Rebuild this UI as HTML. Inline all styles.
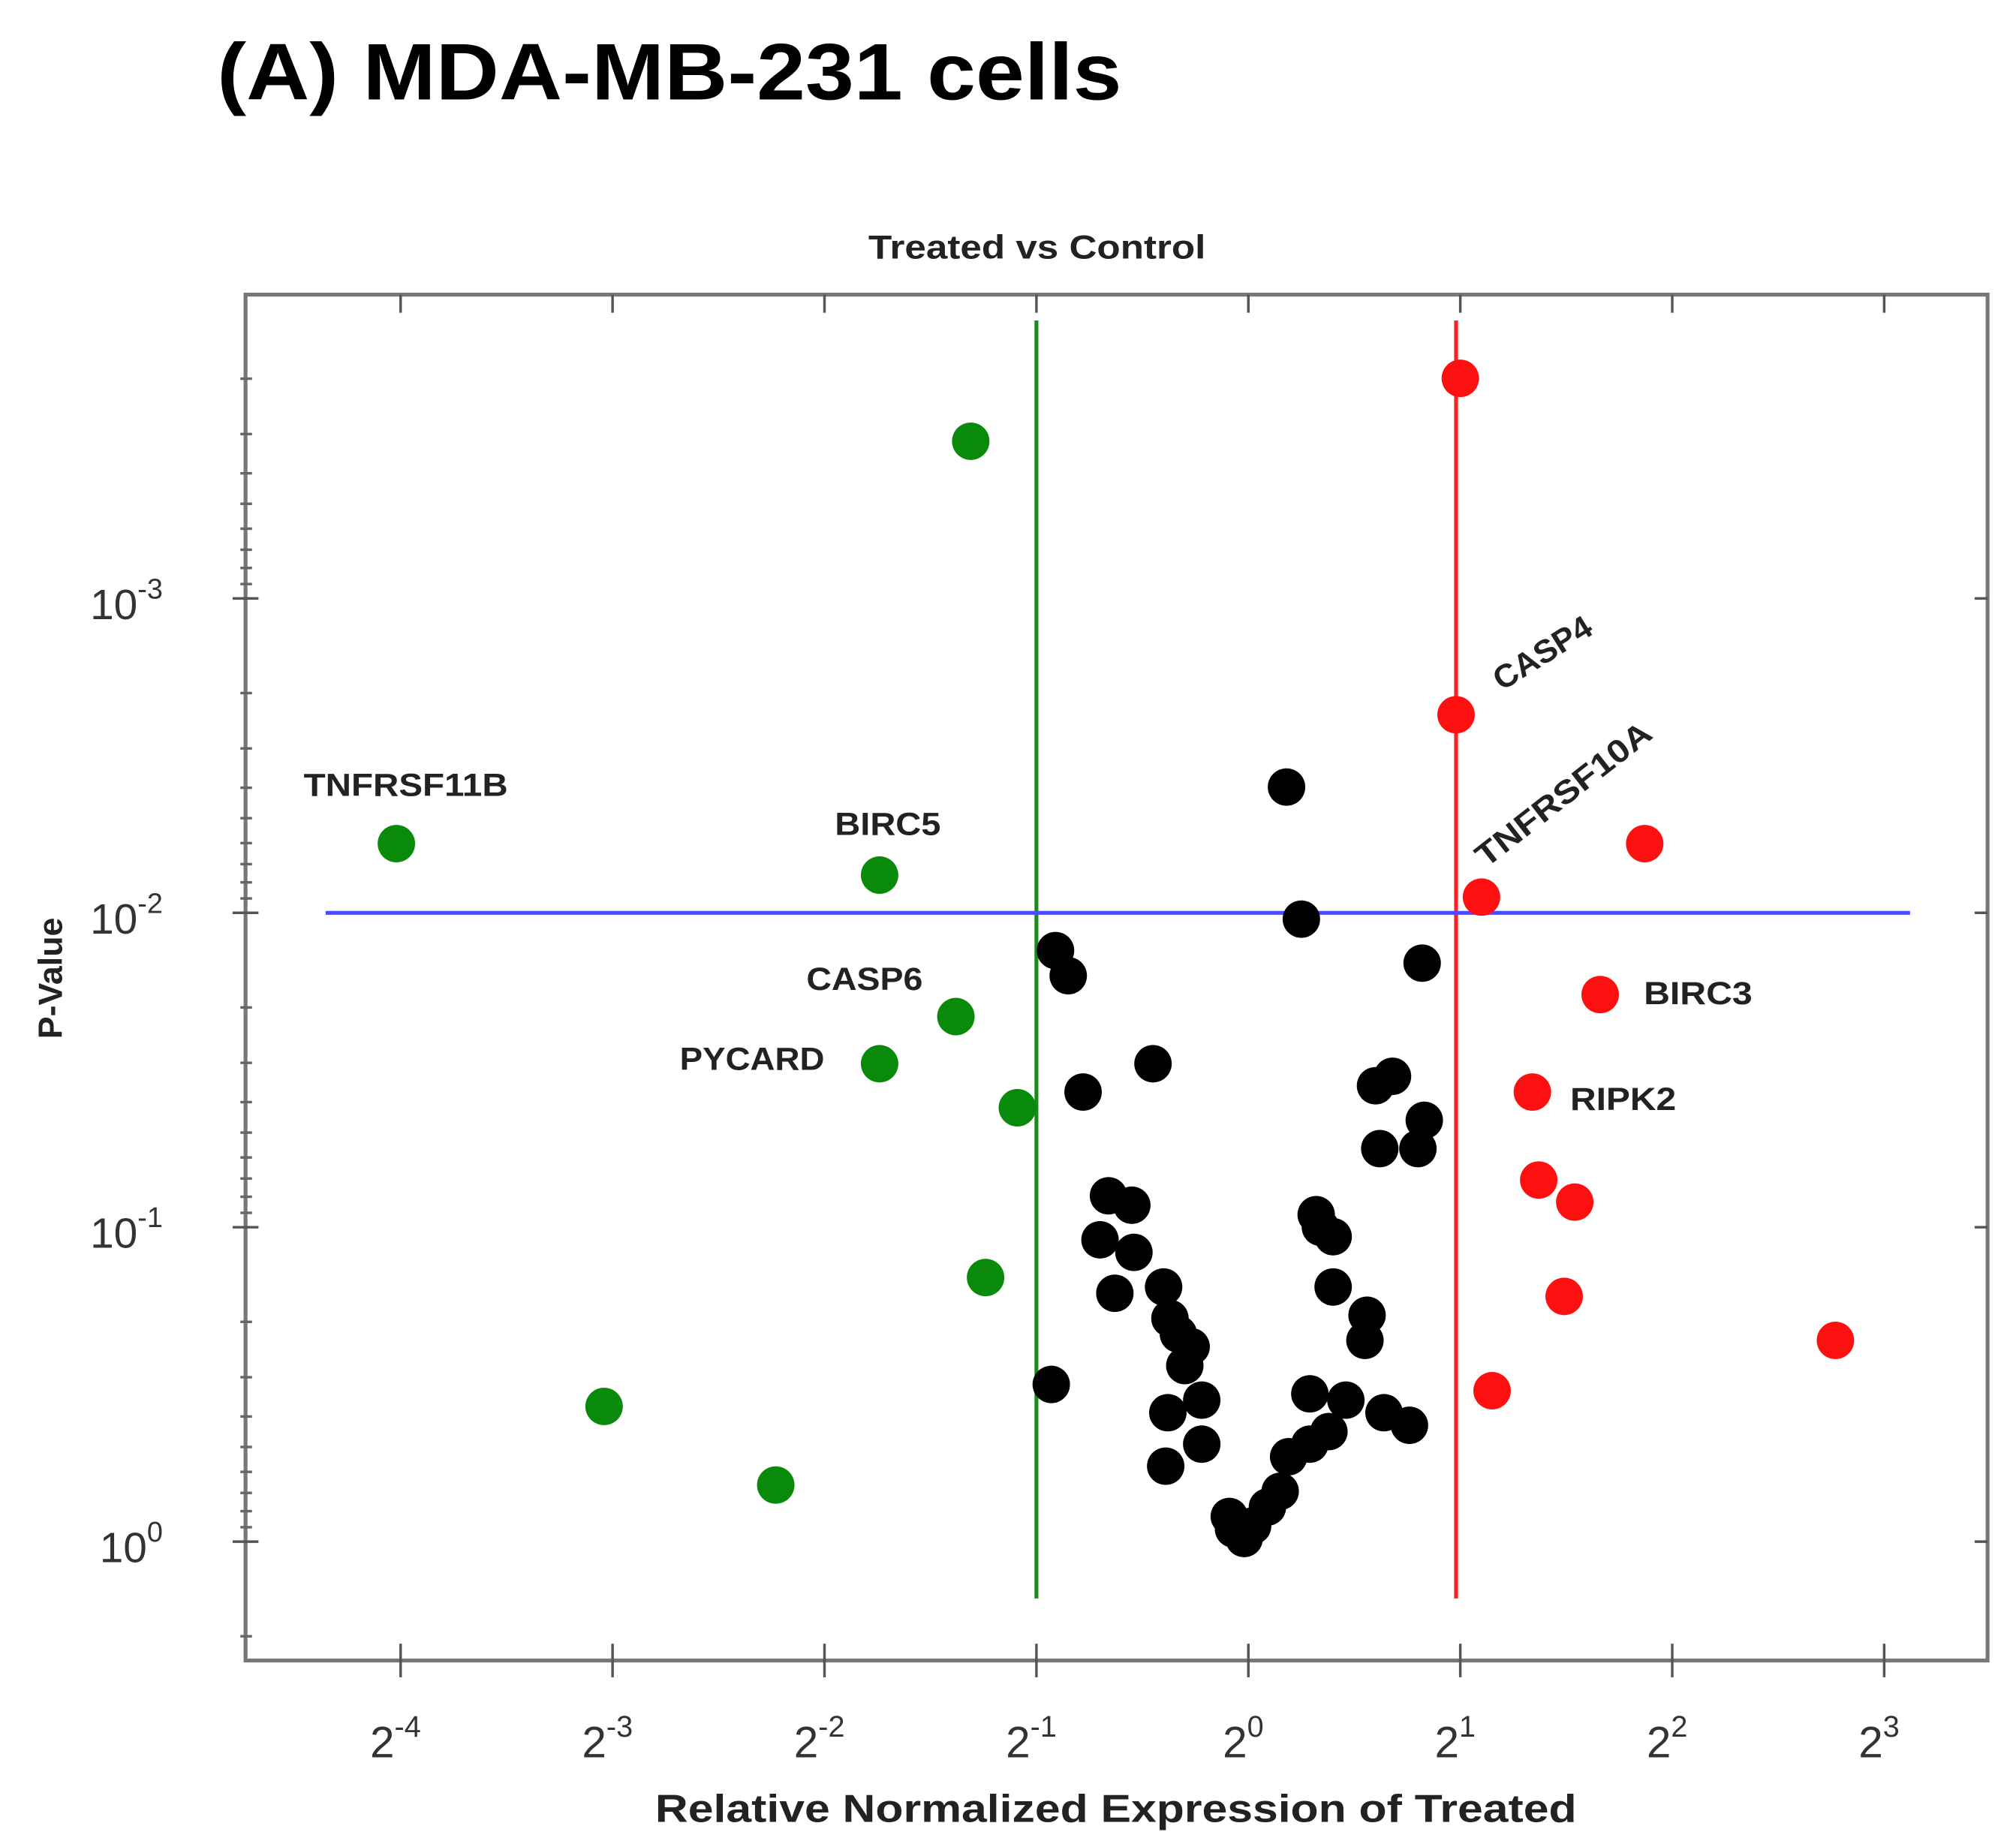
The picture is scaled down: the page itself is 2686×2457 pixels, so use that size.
<!DOCTYPE html>
<html><head><meta charset="utf-8"><style>
html,body{margin:0;padding:0;background:#fff;}
svg{display:block;}
text{font-family:"Liberation Sans",sans-serif;}
</style></head><body>
<svg id="chart" width="2686" height="2457" viewBox="0 0 1560 1427" xmlns="http://www.w3.org/2000/svg">
<text x="168" y="77" font-size="62" font-weight="bold" fill="#000" textLength="700" lengthAdjust="spacingAndGlyphs">(A) MDA-MB-231 cells</text>
<text x="672" y="200" font-size="26" font-weight="bold" fill="#222" textLength="261" lengthAdjust="spacingAndGlyphs">Treated vs Control</text>
<rect x="190" y="228" width="1348" height="1057" fill="none" stroke="#777" stroke-width="3"/>
<g id="axes"></g>
<g id="lines"></g>
<g id="pts"></g>
<g id="labels" font-family="Liberation Sans, sans-serif" font-weight="bold" font-size="25" fill="#222">
<text x="235" y="616" textLength="158" lengthAdjust="spacingAndGlyphs">TNFRSF11B</text>
<text x="646" y="646" textLength="82" lengthAdjust="spacingAndGlyphs">BIRC5</text>
<text x="624" y="766" textLength="90" lengthAdjust="spacingAndGlyphs">CASP6</text>
<text x="526" y="828" textLength="112" lengthAdjust="spacingAndGlyphs">PYCARD</text>
<text x="1272" y="777" textLength="84" lengthAdjust="spacingAndGlyphs">BIRC3</text>
<text x="1215" y="859" textLength="82" lengthAdjust="spacingAndGlyphs">RIPK2</text>
<text x="1162" y="535" transform="rotate(-32 1162 535)" textLength="85" lengthAdjust="spacingAndGlyphs">CASP4</text>
<text x="1150" y="672" transform="rotate(-38 1150 672)" textLength="165" lengthAdjust="spacingAndGlyphs">TNFRSF10A</text>
</g>
<text x="48" y="757" font-size="26" font-weight="bold" text-anchor="middle" transform="rotate(-90 48 757)" fill="#222">P-Value</text>
<text x="507" y="1410" font-size="30" font-weight="bold" fill="#222" textLength="713" lengthAdjust="spacingAndGlyphs">Relative Normalized Expression of Treated</text>
</svg>
<script>
// data: log2 fold change and log10 p-value
const greenL2 = [-1.31,-4.02,-1.74,-1.38,-1.74,-1.09,-1.24,-3.04,-2.23];
const greenLP = [-3.50,-2.22,-2.12,-1.67,-1.52,-1.38,-0.84,-0.43,-0.18];
const redL2 = [1.00,0.98,1.87,1.10,1.66,1.34,1.37,1.54,1.49,2.77,1.15];
const redLP = [-3.70,-2.63,-2.22,-2.05,-1.74,-1.43,-1.15,-1.08,-0.78,-0.64,-0.48];
const blackL2 = [0.18,0.25,0.82,-0.91,-0.85,-0.45,-0.78,0.60,0.68,0.83,0.62,0.80,-0.66,-0.55,-0.70,-0.54,-0.63,-0.40,-0.37,-0.33,-0.30,-0.27,0.32,0.34,0.40,0.40,0.56,0.55,-0.93,-0.38,-0.22,-0.22,-0.39,0.29,0.46,0.64,0.76,0.38,0.29,0.19,0.15,0.09,0.02,-0.02,-0.07,-0.09];
const blackLP = [-2.40,-1.98,-1.84,-1.88,-1.80,-1.52,-1.43,-1.45,-1.48,-1.34,-1.25,-1.25,-1.10,-1.07,-0.96,-0.92,-0.79,-0.81,-0.71,-0.66,-0.56,-0.62,-1.04,-1.00,-0.97,-0.81,-0.72,-0.64,-0.50,-0.41,-0.45,-0.31,-0.24,-0.47,-0.45,-0.41,-0.37,-0.35,-0.31,-0.27,-0.16,-0.11,-0.05,-0.01,-0.04,-0.08];
const xTickExp = [-4,-3,-2,-1,0,1,2,3];
const yTickExp = [-3,-2,-1,0];
const foldThresholdL2 = [-1,0.98];
const pThresholdLP = -2;

const NS='http://www.w3.org/2000/svg';
const X = l2 => 966 + 164*l2;
const Y = lp => 1193 + 243.3*lp;
function mk(tag, attrs, parent){const e=document.createElementNS(NS,tag);for(const k in attrs)e.setAttribute(k,attrs[k]);parent.appendChild(e);return e;}
const axes=document.getElementById('axes'), lines=document.getElementById('lines'), pts=document.getElementById('pts');

xTickExp.forEach(e=>{
  const x=X(e);
  const t1=mk('line',{x1:x,x2:x,y1:1272,y2:1298,stroke:'#555','stroke-width':2},axes);
  
  
  const t2=mk('line',{x1:x,x2:x,y1:228,y2:242,stroke:'#555','stroke-width':2},axes);
  
  
  const tx=mk('text',{x:x-4,y:1360,'font-size':34,'text-anchor':'middle',fill:'#333'},axes);
  
  
  tx.textContent='2';
  const sp=mk('tspan',{dy:-16,'font-size':23},tx); sp.textContent=String(e);
});
yTickExp.forEach(e=>{
  const y=Y(e);
  const t=mk('line',{x1:180,x2:200,y1:y,y2:y,stroke:'#555','stroke-width':2},axes);
  
  
  const t2=mk('line',{x1:1528,x2:1538,y1:y,y2:y,stroke:'#555','stroke-width':2},axes);
  
  
  const tx=mk('text',{x:126,y:y+16,'font-size':33,'text-anchor':'end',fill:'#333'},axes);
  
  
  tx.textContent='10';
  const sp=mk('tspan',{dy:-16,'font-size':22},tx); sp.textContent=String(e);
});
for(let d=-4; d<=0; d++){
  for(let k=2;k<=9;k++){
    const lp=d+Math.log10(k);
    const y=Y(lp);
    if(y<232||y>1280) continue;
    const m=mk('line',{x1:186,x2:195,y1:y,y2:y,stroke:'#666','stroke-width':2},axes);
    
    
  }
}
const gl=mk('line',{x1:X(foldThresholdL2[0]),x2:X(foldThresholdL2[0]),y1:248,y2:1237,stroke:'#1a8a1a','stroke-width':3},lines);


const rl=mk('line',{x1:X(foldThresholdL2[1]),x2:X(foldThresholdL2[1]),y1:248,y2:1237,stroke:'#ff2020','stroke-width':3},lines);


const bl=mk('line',{x1:252,x2:1478,y1:Y(pThresholdLP),y2:Y(pThresholdLP),stroke:'#4a4aff','stroke-width':3},lines);



function series(l2s,lps,color,name){
  l2s.forEach((v,i)=>{
    const c=mk('circle',{cx:X(v),cy:Y(lps[i]),r:14.5,fill:color},pts);
    
    
  });
}
series(blackL2,blackLP,'#000','point-unchanged');
series(greenL2,greenLP,'#0a8a0a','point-downregulated');
series(redL2,redLP,'#ff1010','point-upregulated');
</script>
</body></html>
